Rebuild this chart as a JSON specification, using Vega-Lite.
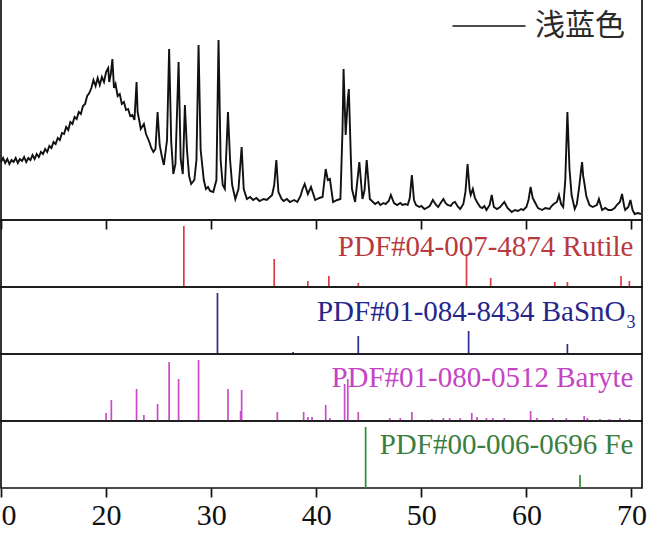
{
  "$schema": "https://vega.github.io/schema/vega-lite/v6.json",
  "autosize": {"type": "pad"},
  "padding": {"left": -15, "top": -2, "right": 0, "bottom": 0},
  "background": "white",
  "spacing": 0,
  "bounds": "flush",
  "config": {
    "view": {"stroke": "#111", "strokeWidth": 1.7},
    "axis": {"grid": false, "domain": false, "title": null}
  },
  "datasets": {
    "xrd": [
      {"t":10.0,"i":58},{"t":10.2,"i":62},{"t":10.4,"i":57},{"t":10.6,"i":61},{"t":10.8,"i":56},{"t":11.0,"i":60},{"t":11.2,"i":58},{"t":11.4,"i":62},{"t":11.6,"i":57},{"t":11.8,"i":61},{"t":12.0,"i":59},{"t":12.2,"i":63},{"t":12.4,"i":58},{"t":12.6,"i":62},{"t":12.8,"i":60},{"t":13.0,"i":65},{"t":13.2,"i":61},{"t":13.4,"i":66},{"t":13.6,"i":63},{"t":13.8,"i":68},{"t":14.0,"i":66},{"t":14.2,"i":71},{"t":14.4,"i":68},{"t":14.6,"i":74},{"t":14.8,"i":72},{"t":15.0,"i":78},{"t":15.2,"i":76},{"t":15.4,"i":82},{"t":15.6,"i":80},{"t":15.8,"i":87},{"t":16.0,"i":86},{"t":16.2,"i":93},{"t":16.4,"i":90},{"t":16.6,"i":98},{"t":16.8,"i":96},{"t":17.0,"i":103},{"t":17.2,"i":101},{"t":17.4,"i":108},{"t":17.6,"i":106},{"t":17.8,"i":114},{"t":18.0,"i":116},{"t":18.2,"i":124},{"t":18.4,"i":127},{"t":18.6,"i":132},{"t":18.8,"i":140},{"t":19.0,"i":134},{"t":19.2,"i":142},{"t":19.4,"i":135},{"t":19.6,"i":143},{"t":19.8,"i":138},{"t":20.0,"i":148},{"t":20.2,"i":152},{"t":20.3,"i":138},{"t":20.45,"i":146},{"t":20.6,"i":161},{"t":20.75,"i":132},{"t":20.9,"i":136},{"t":21.1,"i":124},{"t":21.3,"i":126},{"t":21.5,"i":116},{"t":21.7,"i":118},{"t":21.9,"i":110},{"t":22.1,"i":111},{"t":22.3,"i":104},{"t":22.5,"i":105},{"t":22.7,"i":100},{"t":22.9,"i":138},{"t":23.0,"i":108},{"t":23.15,"i":100},{"t":23.3,"i":91},{"t":23.6,"i":96},{"t":23.8,"i":86},{"t":24.0,"i":81},{"t":24.15,"i":77},{"t":24.3,"i":72},{"t":24.5,"i":68},{"t":24.7,"i":71},{"t":24.9,"i":108},{"t":25.1,"i":75},{"t":25.3,"i":64},{"t":25.5,"i":55},{"t":25.8,"i":80},{"t":26.0,"i":171},{"t":26.2,"i":78},{"t":26.4,"i":46},{"t":26.6,"i":56},{"t":26.9,"i":158},{"t":27.1,"i":61},{"t":27.3,"i":46},{"t":27.5,"i":115},{"t":27.7,"i":70},{"t":27.9,"i":44},{"t":28.1,"i":36},{"t":28.4,"i":40},{"t":28.6,"i":60},{"t":28.8,"i":175},{"t":29.0,"i":70},{"t":29.3,"i":40},{"t":29.5,"i":31},{"t":29.7,"i":33},{"t":29.9,"i":29},{"t":30.2,"i":28},{"t":30.5,"i":40},{"t":30.7,"i":180},{"t":30.9,"i":60},{"t":31.1,"i":35},{"t":31.3,"i":31},{"t":31.6,"i":108},{"t":31.8,"i":60},{"t":32.0,"i":35},{"t":32.3,"i":21},{"t":32.6,"i":31},{"t":32.9,"i":73},{"t":33.1,"i":31},{"t":33.4,"i":21},{"t":33.7,"i":23},{"t":34.0,"i":20},{"t":34.3,"i":22},{"t":34.6,"i":19},{"t":35.0,"i":21},{"t":35.3,"i":20},{"t":35.8,"i":25},{"t":36.0,"i":35},{"t":36.2,"i":60},{"t":36.4,"i":28},{"t":36.7,"i":21},{"t":36.9,"i":19},{"t":37.2,"i":21},{"t":37.5,"i":18},{"t":37.9,"i":20},{"t":38.2,"i":18},{"t":38.5,"i":24},{"t":38.7,"i":31},{"t":38.9,"i":36},{"t":39.2,"i":26},{"t":39.5,"i":33},{"t":39.9,"i":20},{"t":40.3,"i":22},{"t":40.6,"i":23},{"t":40.9,"i":51},{"t":41.1,"i":40},{"t":41.3,"i":41},{"t":41.6,"i":18},{"t":42.0,"i":20},{"t":42.3,"i":21},{"t":42.5,"i":90},{"t":42.6,"i":151},{"t":42.8,"i":85},{"t":43.0,"i":120},{"t":43.1,"i":131},{"t":43.3,"i":60},{"t":43.4,"i":31},{"t":43.7,"i":18},{"t":44.1,"i":58},{"t":44.4,"i":21},{"t":44.6,"i":30},{"t":44.8,"i":60},{"t":45.1,"i":21},{"t":45.4,"i":18},{"t":45.6,"i":16},{"t":45.9,"i":18},{"t":46.1,"i":15},{"t":46.4,"i":17},{"t":46.6,"i":16},{"t":46.9,"i":19},{"t":47.1,"i":25},{"t":47.4,"i":17},{"t":47.7,"i":15},{"t":48.0,"i":17},{"t":48.2,"i":15},{"t":48.5,"i":16},{"t":48.7,"i":15},{"t":48.9,"i":22},{"t":49.1,"i":45},{"t":49.3,"i":20},{"t":49.5,"i":15},{"t":49.8,"i":13},{"t":50.0,"i":14},{"t":50.3,"i":11},{"t":50.5,"i":12},{"t":50.8,"i":14},{"t":51.1,"i":20},{"t":51.4,"i":15},{"t":51.6,"i":13},{"t":51.9,"i":18},{"t":52.1,"i":21},{"t":52.3,"i":17},{"t":52.5,"i":15},{"t":52.8,"i":14},{"t":53.0,"i":17},{"t":53.2,"i":18},{"t":53.5,"i":13},{"t":53.7,"i":11},{"t":54.0,"i":16},{"t":54.2,"i":28},{"t":54.4,"i":56},{"t":54.6,"i":30},{"t":54.7,"i":25},{"t":54.9,"i":31},{"t":55.1,"i":22},{"t":55.3,"i":18},{"t":55.6,"i":13},{"t":55.8,"i":12},{"t":56.0,"i":14},{"t":56.2,"i":10},{"t":56.5,"i":15},{"t":56.7,"i":25},{"t":56.9,"i":13},{"t":57.2,"i":11},{"t":57.5,"i":13},{"t":57.9,"i":18},{"t":58.2,"i":12},{"t":58.6,"i":8},{"t":58.9,"i":10},{"t":59.2,"i":9},{"t":59.5,"i":11},{"t":59.7,"i":10},{"t":60.0,"i":13},{"t":60.2,"i":20},{"t":60.4,"i":33},{"t":60.6,"i":22},{"t":60.8,"i":18},{"t":61.1,"i":12},{"t":61.5,"i":10},{"t":61.8,"i":12},{"t":62.2,"i":11},{"t":62.4,"i":14},{"t":62.6,"i":16},{"t":62.9,"i":18},{"t":63.1,"i":25},{"t":63.3,"i":16},{"t":63.5,"i":13},{"t":63.7,"i":40},{"t":63.9,"i":108},{"t":64.1,"i":51},{"t":64.3,"i":25},{"t":64.6,"i":11},{"t":64.8,"i":16},{"t":65.0,"i":31},{"t":65.2,"i":50},{"t":65.3,"i":58},{"t":65.4,"i":44},{"t":65.5,"i":38},{"t":65.7,"i":24},{"t":66.0,"i":15},{"t":66.3,"i":13},{"t":66.7,"i":15},{"t":66.9,"i":21},{"t":67.2,"i":10},{"t":67.5,"i":12},{"t":67.8,"i":10},{"t":68.1,"i":10},{"t":68.4,"i":12},{"t":68.6,"i":15},{"t":68.9,"i":18},{"t":69.1,"i":26},{"t":69.3,"i":14},{"t":69.4,"i":10},{"t":69.7,"i":13},{"t":69.9,"i":20},{"t":70.1,"i":10},{"t":70.3,"i":6},{"t":70.6,"i":7},{"t":70.9,"i":6}
    ],
    "rutile": [
      {"t":27.4,"h":61},{"t":36.0,"h":28},{"t":39.2,"h":6},{"t":41.2,"h":11},{"t":44.0,"h":4},{"t":54.3,"h":33},{"t":56.6,"h":9},{"t":62.7,"h":5},{"t":63.9,"h":5},{"t":69.0,"h":11},{"t":69.8,"h":6}
    ],
    "basno3": [
      {"t":30.6,"h":61},{"t":37.8,"h":2},{"t":44.0,"h":18},{"t":54.5,"h":23},{"t":63.9,"h":10}
    ],
    "baryte": [
      {"t":15.9,"h":1},{"t":20.0,"h":8},{"t":20.5,"h":21},{"t":22.9,"h":32},{"t":23.6,"h":6},{"t":24.9,"h":17},{"t":26.0,"h":59},{"t":26.9,"h":42},{"t":28.8,"h":61},{"t":31.6,"h":32},{"t":32.8,"h":10},{"t":32.9,"h":31},{"t":36.3,"h":9},{"t":38.8,"h":9},{"t":39.2,"h":4},{"t":39.6,"h":4},{"t":40.9,"h":16},{"t":41.3,"h":3},{"t":42.7,"h":37},{"t":43.0,"h":42},{"t":44.0,"h":9},{"t":47.0,"h":3},{"t":48.0,"h":3},{"t":49.1,"h":9},{"t":51.0,"h":2},{"t":52.1,"h":3},{"t":52.7,"h":3},{"t":53.7,"h":3},{"t":54.8,"h":8},{"t":55.3,"h":4},{"t":56.2,"h":3},{"t":56.8,"h":3},{"t":57.9,"h":3},{"t":60.4,"h":10},{"t":61.0,"h":3},{"t":62.5,"h":3},{"t":63.8,"h":3},{"t":65.5,"h":5},{"t":65.8,"h":3},{"t":67.0,"h":2},{"t":67.9,"h":2},{"t":68.9,"h":3},{"t":69.8,"h":2}
    ],
    "fe": [
      {"t":44.7,"h":61},{"t":65.1,"h":13}
    ]
  },
  "vconcat": [
    {
      "width": 641,
      "height": 221,
      "data": {"name": "xrd"},
      "mark": {"type": "line", "strokeWidth": 1.9},
      "encoding": {
        "x": {"field": "t", "type": "quantitative", "scale": {"domain": [10, 71], "nice": false, "zero": false},
              "axis": {"values": [10,20,30,40,50,60,70], "labels": false, "tickSize": 9, "tickWidth": 1.7, "tickColor": "#111"}},
        "y": {"field": "i", "type": "quantitative", "scale": {"domain": [0, 221], "nice": false}, "axis": null},
        "stroke": {"datum": "浅蓝色", "type": "nominal", "scale": {"range": ["#111"]},
                   "legend": {"orient": "none", "legendX": 473, "legendY": 12, "title": null, "padding": 0,
                              "symbolType": "M-4,0H4", "symbolSize": 333, "symbolStrokeWidth": 1.7, "symbolStrokeColor": "#111", "symbolFillColor": "transparent",
                              "labelFont": "Noto Sans CJK SC", "labelFontSize": 30, "labelColor": "#2a2a2a", "labelOffset": 31, "labelLimit": 300}}
      }
    },
    {
      "width": 641,
      "height": 67,
      "layer": [
        {
          "data": {"name": "rutile"},
          "mark": {"type": "rule", "color": "#dc3c44", "strokeWidth": 1.7},
          "encoding": {
            "x": {"field": "t", "type": "quantitative", "scale": {"domain": [10, 71], "nice": false, "zero": false}, "axis": null},
            "y": {"field": "h", "type": "quantitative", "scale": {"domain": [0, 67], "nice": false}, "axis": null},
            "y2": {"datum": 0}
          }
        },
        {
          "data": {"values": [{"label": "PDF#04-007-4874 Rutile"}]},
          "mark": {"type": "text", "align": "right", "baseline": "alphabetic", "font": "Liberation Serif", "fontSize": 29, "color": "#b83a3e"},
          "encoding": {"x": {"datum": 70.19}, "y": {"datum": 31}, "text": {"field": "label"}}
        }
      ]
    },
    {
      "width": 641,
      "height": 67,
      "layer": [
        {
          "data": {"name": "basno3"},
          "mark": {"type": "rule", "color": "#2c2c8e", "strokeWidth": 1.7},
          "encoding": {
            "x": {"field": "t", "type": "quantitative", "scale": {"domain": [10, 71], "nice": false, "zero": false}, "axis": null},
            "y": {"field": "h", "type": "quantitative", "scale": {"domain": [0, 67], "nice": false}, "axis": null},
            "y2": {"datum": 0}
          }
        },
        {
          "data": {"values": [{"label": "PDF#01-084-8434 BaSnO"}]},
          "mark": {"type": "text", "align": "right", "baseline": "alphabetic", "font": "Liberation Serif", "fontSize": 29, "color": "#26268a"},
          "encoding": {"x": {"datum": 69.43}, "y": {"datum": 33}, "text": {"field": "label"}}
        },
        {
          "data": {"values": [{"label": "3"}]},
          "mark": {"type": "text", "align": "left", "baseline": "alphabetic", "font": "Liberation Serif", "fontSize": 18, "color": "#26268a"},
          "encoding": {"x": {"datum": 69.52}, "y": {"datum": 26}, "text": {"field": "label"}}
        }
      ]
    },
    {
      "width": 641,
      "height": 67,
      "layer": [
        {
          "data": {"name": "baryte"},
          "mark": {"type": "rule", "color": "#c84cc8", "strokeWidth": 1.7},
          "encoding": {
            "x": {"field": "t", "type": "quantitative", "scale": {"domain": [10, 71], "nice": false, "zero": false}, "axis": null},
            "y": {"field": "h", "type": "quantitative", "scale": {"domain": [0, 67], "nice": false}, "axis": null},
            "y2": {"datum": 0}
          }
        },
        {
          "data": {"values": [{"label": "PDF#01-080-0512 Baryte"}]},
          "mark": {"type": "text", "align": "right", "baseline": "alphabetic", "font": "Liberation Serif", "fontSize": 29, "color": "#c444c4"},
          "encoding": {"x": {"datum": 70.19}, "y": {"datum": 34}, "text": {"field": "label"}}
        }
      ]
    },
    {
      "width": 641,
      "height": 67,
      "layer": [
        {
          "data": {"name": "fe"},
          "mark": {"type": "rule", "color": "#2e8a3a", "strokeWidth": 1.7},
          "encoding": {
            "x": {"field": "t", "type": "quantitative", "scale": {"domain": [10, 71], "nice": false, "zero": false},
                  "axis": {"values": [10,20,30,40,50,60,70], "labelFont": "Liberation Serif", "labelFontSize": 30, "labelColor": "#111",
                           "tickSize": 9, "tickWidth": 1.7, "tickColor": "#111", "labelPadding": 3, "labelFlush": false, "labelOverlap": false}},
            "y": {"field": "h", "type": "quantitative", "scale": {"domain": [0, 67], "nice": false}, "axis": null},
            "y2": {"datum": 0}
          }
        },
        {
          "data": {"values": [{"label": "PDF#00-006-0696 Fe"}]},
          "mark": {"type": "text", "align": "right", "baseline": "alphabetic", "font": "Liberation Serif", "fontSize": 29, "color": "#3a7e40"},
          "encoding": {"x": {"datum": 70.19}, "y": {"datum": 34}, "text": {"field": "label"}}
        }
      ]
    }
  ]
}
